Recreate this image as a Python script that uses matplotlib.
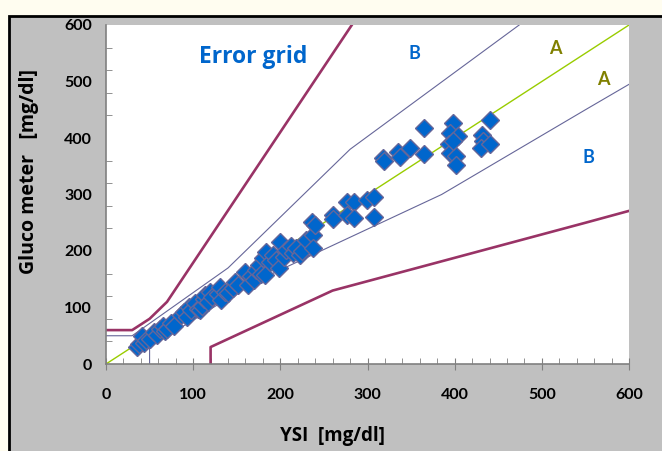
import matplotlib.pyplot as plt
from matplotlib.patches import Rectangle
from matplotlib.ticker import MultipleLocator

plt.rcParams['font.family'] = ['Lato', 'DejaVu Sans']
wide = ['Open Sans', 'DejaVu Sans']

# measured values (YSI reference vs glucometer), mg/dl
ysi = [35, 38, 41, 44, 46, 50, 55, 58, 62, 65, 68, 70, 74, 78, 86, 90, 93, 95, 98,
       102, 105, 108, 110, 112, 114, 117, 119, 122, 128, 131, 132, 136, 140, 146,
       148, 152, 159, 163, 166, 170, 172, 175, 178, 180, 182, 184, 188, 192, 195,
       198, 200, 204, 207, 212, 215, 218, 222, 225, 229, 236, 238, 240, 238,
       260, 260, 276, 284, 276, 284, 299, 308, 308, 318, 319, 335, 337, 349, 365,
       365, 398, 395, 404, 393, 395, 402, 402, 398, 431, 432, 430, 441, 441]
meter = [30, 35, 50, 38, 43, 45, 57, 52, 62, 68, 58, 62, 72, 68, 86, 92, 84, 101, 95,
         108, 98, 96, 102, 115, 122, 110, 128, 118, 124, 137, 113, 128, 126, 134,
         146, 140, 163, 140, 155, 149, 166, 175, 160, 187, 158, 199, 180, 193, 184,
         170, 216, 190, 202, 208, 196, 205, 193, 200, 219, 252, 228, 246, 205,
         264, 256, 287, 287, 264, 258, 290, 296, 260, 364, 359, 375, 366, 382, 418,
         372, 427, 409, 403, 390, 373, 368, 353, 395, 405, 395, 383, 390, 432]

# error grid boundaries
ident_x = [0, 600]
ident_y = [0, 600]
a_up_x = [0, 30, 140, 280, 474]
a_up_y = [50, 50, 170, 380, 600]
a_lo_x = [50, 50, 170, 385, 550, 600]
a_lo_y = [0, 30, 145, 300, 450, 495]
b_up_x = [0, 30, 50, 70, 282]
b_up_y = [60, 60, 80, 110, 600]
b_lo_x = [120, 120, 260, 550, 600]
b_lo_y = [0, 30, 130, 250, 271]

fig = plt.figure(figsize=(6.62, 4.51), dpi=100, facecolor='#FFFDF0')
fig.patches.append(Rectangle((9 / 662, -0.05), 1.1, 1.05 - 16 / 451,
                             transform=fig.transFigure, facecolor='#C0C0C0',
                             edgecolor='black', linewidth=2, zorder=-5))

ax = fig.add_axes([106 / 662, 87 / 451, 523 / 662, 339 / 451])
ax.set_facecolor('white')

ax.plot(ident_x, ident_y, color='#99CC00', lw=1.0, zorder=2)
ax.plot(a_up_x, a_up_y, color='#666699', lw=0.8, zorder=2)
ax.plot(a_lo_x, a_lo_y, color='#666699', lw=0.8, zorder=2)
ax.plot(b_up_x, b_up_y, color='#993366', lw=1.9, zorder=2)
ax.plot(b_lo_x, b_lo_y, color='#993366', lw=1.9, zorder=2)

ax.plot(ysi, meter, 'D', markersize=8.8, markerfacecolor='#0066CC',
        markeredgecolor='#666699', markeredgewidth=1.0, zorder=3, clip_on=False)

ax.text(169, 543, 'Error grid', color='#0066CC', fontsize=16.5, fontweight='bold',
        family=wide, ha='center', va='center')
ax.text(354, 549, 'B', color='#0066CC', fontsize=13, fontweight='bold', ha='center', va='center')
ax.text(553, 365, 'B', color='#0066CC', fontsize=13, fontweight='bold', ha='center', va='center')
ax.text(515, 559, 'A', color='#808000', fontsize=13, fontweight='bold', ha='center', va='center')
ax.text(570, 504, 'A', color='#808000', fontsize=13, fontweight='bold', ha='center', va='center')

ax.set_xlim(0, 600)
ax.set_ylim(0, 600)
for s in ['top', 'right']:
    ax.spines[s].set_visible(False)
for s in ['left', 'bottom']:
    ax.spines[s].set_color('#808080')
    ax.spines[s].set_linewidth(1.2)

ax.xaxis.set_major_locator(MultipleLocator(100))
ax.xaxis.set_minor_locator(MultipleLocator(20))
ax.yaxis.set_major_locator(MultipleLocator(100))
ax.yaxis.set_minor_locator(MultipleLocator(40))
ax.tick_params(axis='x', which='major', direction='inout', length=8, color='#808080',
               labelsize=11.5, pad=13)
ax.tick_params(axis='x', which='minor', direction='in', length=4, color='#808080')
ax.tick_params(axis='y', which='major', length=0, labelsize=11.5, pad=10)
ax.tick_params(axis='y', which='minor', direction='in', length=4, color='#808080')
for lab in ax.get_xticklabels() + ax.get_yticklabels():
    lab.set_fontweight('bold')

fig.text(332 / 662, 1 - 436 / 451, 'YSI  [mg/dl]', fontsize=13.5, fontweight='bold',
         family=wide, ha='center', va='center')
fig.text(29 / 662, 1 - 171 / 451, 'Gluco meter   [mg/dl]', fontsize=14, fontweight='bold',
         family=wide, rotation=90, ha='center', va='center')

fig.savefig('out.png', dpi=100, facecolor=fig.get_facecolor())
